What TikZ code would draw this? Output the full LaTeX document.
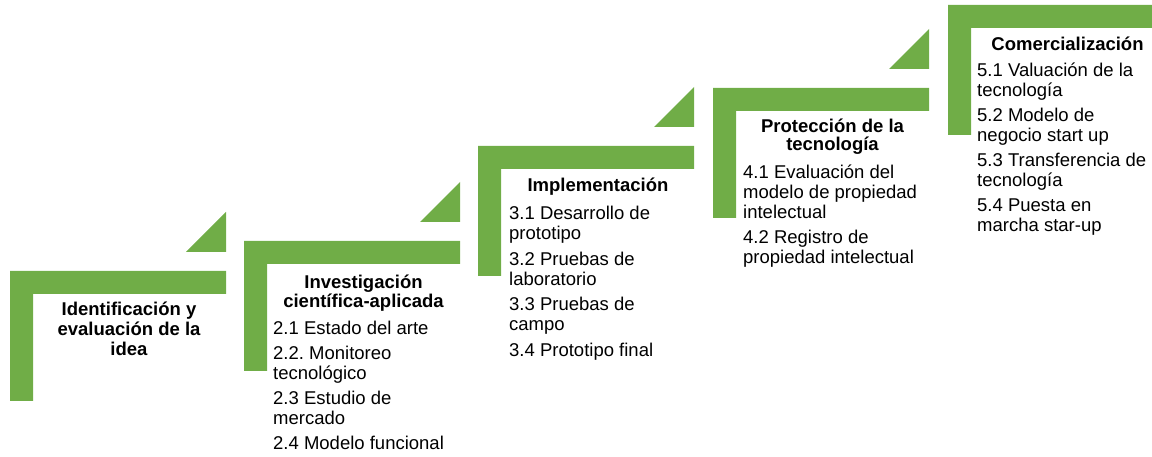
\documentclass[tikz,border=0pt]{standalone}
\usepackage{fontspec}
\setmainfont{Liberation Sans}
\frenchspacing
\definecolor{stepgreen}{RGB}{112,173,71}
\tikzset{
  head/.style={anchor=north,inner sep=0pt,align=center,
    font=\bfseries\fontsize{18.5bp}{18.5bp}\selectfont},
  body/.style={anchor=north west,inner sep=0pt,align=left,
    font=\fontsize{18.5bp}{20bp}\selectfont}
}
\newcommand{\firstline}{\rule{0pt}{15bp}}
\begin{document}
\begin{tikzpicture}[x=1bp,y=-1bp]

      \clip (0,0) rectangle (1152,457);

      \foreach \sx/\sy in {10/271,244/241,478/146,713/88,948/5} {
        \fill[stepgreen] (\sx,\sy) -- ++(216,0) -- ++(0,23) -- ++(-193,0)
          -- ++(0,107) -- ++(-23,0) -- cycle;
        \fill[stepgreen] (\sx+176,\sy-19) -- ++(40,0) -- ++(0,-40) -- cycle;
      }

      \begin{scope}[every node/.style={head}]
        \node[font=\bfseries\fontsize{18.5bp}{20bp}\selectfont] (idea) at (129,300)
          {\firstline Identificación y\\evaluación de la\\idea};
        \node (inv)   at (363.5,273.7) {\firstline Investigación\\científica-aplicada};
        \node (impl)  at (598,176)    {\firstline Implementación};
        \node (prot)  at (832.5,117)  {\firstline Protección de la\\tecnología};
        \node (comer) at (1067.5,35)  {\firstline Comercialización};
      \end{scope}

      \begin{scope}[every node/.style={body}]
        \node (invlist)   at (273,319.5) {\firstline 2.1 Estado del arte\\[5bp]2.2. Monitoreo\\tecnológico\\[5bp]2.3 Estudio de\\mercado\\[5bp]2.4 Modelo funcional};
        \node (impllist)  at (509,204.5) {\firstline 3.1 Desarrollo de\\prototipo\\[5.5bp]3.2 Pruebas de\\laboratorio\\[5.5bp]3.3 Pruebas de\\campo\\[5.5bp]3.4 Prototipo final};
        \node (protlist)  at (743,163.5) {\firstline 4.1 Evaluación del\\modelo de propiedad\\intelectual\\[5bp]4.2 Registro de\\propiedad intelectual};
        \node (comerlist) at (977,61)    {\firstline 5.1 Valuación de la\\tecnología\\[5bp]5.2 Modelo de\\negocio start up\\[5bp]5.3 Transferencia de\\tecnología\\[5bp]5.4 Puesta en\\marcha star-up};
      \end{scope}

    \end{tikzpicture}
\end{document}
